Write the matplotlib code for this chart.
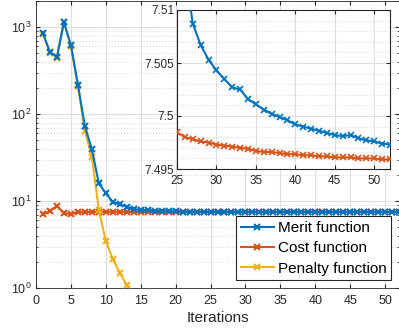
import numpy as np
import matplotlib
matplotlib.use('Agg')
import matplotlib.pyplot as plt
from matplotlib.ticker import MultipleLocator, LogLocator, NullFormatter

plt.rcParams['font.family'] = ['Liberation Sans', 'DejaVu Sans']

# values (iterations 1..52)
merit = [847, 516, 456, 1141, 621, 219, 73, 39.6, 16, 12.3,
         9.7, 9.2, 8.6, 8.1, 7.9, 7.8, 7.72, 7.66, 7.62, 7.59,
         7.565, 7.55, 7.538, 7.528, 7.52, 7.514, 7.5087, 7.5067, 7.5053, 7.5043,
         7.5035, 7.5027, 7.5025, 7.5016, 7.5011, 7.5006, 7.5002, 7.4999, 7.4996, 7.4992,
         7.4990, 7.4988, 7.4986, 7.4984, 7.4982, 7.4981, 7.4982, 7.4979, 7.4977, 7.4976,
         7.4974, 7.4973]
cost = [7.03, 7.67, 8.77, 7.2, 7.14, 7.43, 7.47, 7.49, 7.50, 7.505,
        7.506, 7.506, 7.505, 7.504, 7.503, 7.502, 7.5015, 7.501, 7.5005, 7.5,
        7.4997, 7.4994, 7.4991, 7.4988, 7.49845, 7.4980, 7.4978, 7.4976, 7.4975, 7.4973,
        7.4972, 7.4971, 7.4970, 7.4969, 7.4967, 7.4966, 7.4966, 7.4965, 7.4964, 7.4964,
        7.4963, 7.4963, 7.4962, 7.4962, 7.4961, 7.4961, 7.4961, 7.4960, 7.4960, 7.4960,
        7.4959, 7.4959]
penalty = [840, 508, 447, 1134, 614, 212, 64, 32.5, 7.9, 3.47,
           2.15, 1.5, 1.08, 0.72, 0.45, 0.3, 0.22, 0.16, 0.12, 0.09]
it = np.arange(1, len(merit) + 1)
it_pen = np.arange(1, len(penalty) + 1)

c_blue = '#0072BD'
c_orange = '#D95319'
c_yellow = '#EDB120'
axcol = '#262626'

fig = plt.figure(figsize=(3.99, 3.31), dpi=100)
ax = fig.add_axes([36/399, 43/331, 363/399, 287/331])

ax.plot(it, merit, '-x', color=c_blue, lw=1.5, ms=5, mew=1.5, zorder=5, label='Merit function')
ax.plot(it, cost, '-x', color=c_orange, lw=1.5, ms=5, mew=1.5, zorder=3, label='Cost function')
ax.plot(it_pen, penalty, '-x', color=c_yellow, lw=1.5, ms=5, mew=1.5, zorder=4, label='Penalty function')

ax.set_yscale('log')
ax.set_xlim(0, 52)
ax.set_ylim(1, 2000)
ax.xaxis.set_major_locator(MultipleLocator(5))
ax.yaxis.set_major_locator(LogLocator(base=10, numticks=10))
ax.yaxis.set_minor_locator(LogLocator(base=10, subs=np.arange(2, 10), numticks=20))
ax.yaxis.set_minor_formatter(NullFormatter())
ax.grid(True, which='major', color='#dfdfdf', lw=0.8)
ax.grid(True, which='minor', axis='y', color='#c8c8c8', lw=0.6, ls=(0, (1, 2.5)))
ax.set_axisbelow(True)
ax.tick_params(which='both', direction='in', top=True, right=True, colors=axcol,
               labelsize=9, length=3)
ax.tick_params(axis='x', pad=5)
ax.tick_params(which='minor', length=1.5)
for s in ax.spines.values():
    s.set_color(axcol)
    s.set_linewidth(0.6)
ax.set_xlabel('Iterations', fontsize=11, color=axcol, labelpad=3)

leg = ax.legend(loc='lower right', fontsize=11, fancybox=False, framealpha=1,
                edgecolor=axcol, handlelength=2.2, handletextpad=0.25,
                borderpad=0.3, labelspacing=0.42, borderaxespad=0.5)
leg.get_frame().set_linewidth(0.8)
leg.set_zorder(10)

# inset zoom
axi = fig.add_axes([177/399, 162/331, 213/399, 159/331])
axi.plot(it, merit, '-x', color=c_blue, lw=1.5, ms=5, mew=1.2, zorder=5)
axi.plot(it, cost, '-x', color=c_orange, lw=1.5, ms=5, mew=1.2, zorder=3)
axi.set_xlim(25, 52)
axi.set_ylim(7.495, 7.51)
axi.xaxis.set_major_locator(MultipleLocator(5))
axi.yaxis.set_minor_locator(MultipleLocator(0.001))
axi.set_yticks([7.495, 7.5, 7.505, 7.51])
axi.set_yticklabels(['7.495', '7.5', '7.505', '7.51'])
axi.grid(True, which='major', color='#dfdfdf', lw=0.8)
axi.grid(True, which='minor', axis='y', color='#c8c8c8', lw=0.6, ls=(0, (1, 2.5)))
axi.set_axisbelow(True)
axi.tick_params(which='both', direction='in', top=True, right=True, colors=axcol,
                labelsize=8.5, length=3, pad=2)
axi.tick_params(axis='x', pad=4)
axi.tick_params(which='minor', length=0)
for s in axi.spines.values():
    s.set_color(axcol)
    s.set_linewidth(0.8)

fig.savefig('out.png', dpi=100)
